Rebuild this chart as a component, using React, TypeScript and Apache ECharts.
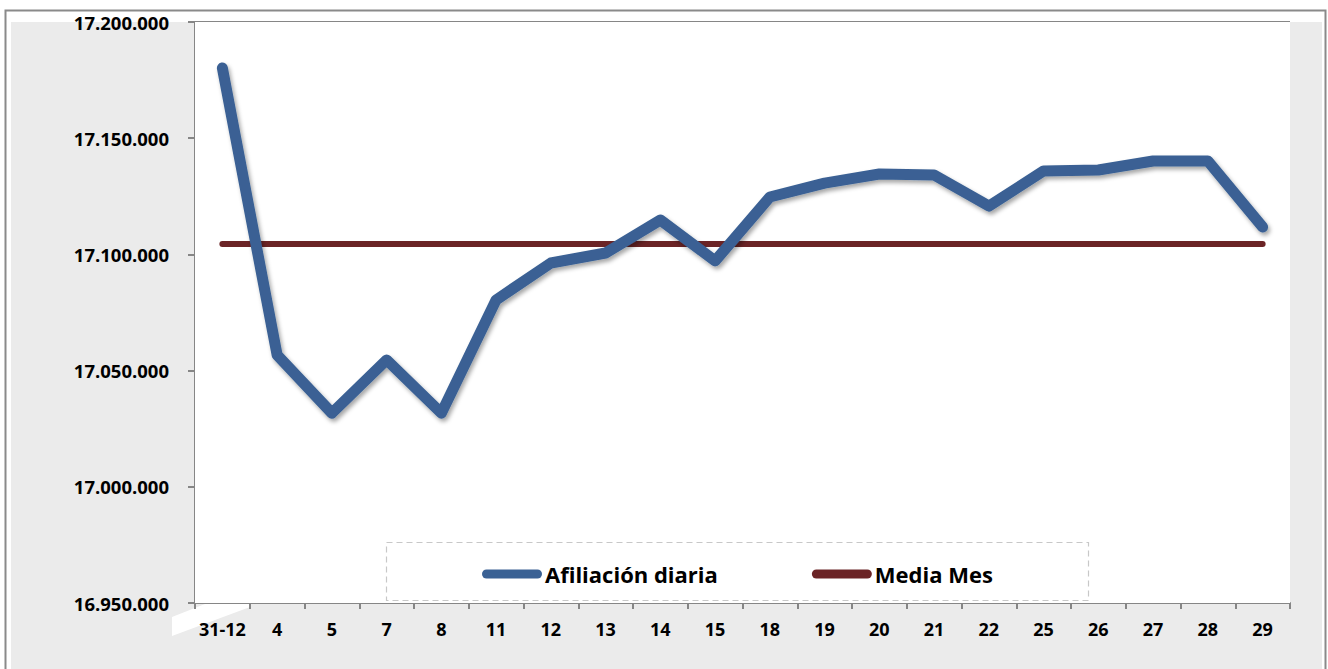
import React, { useEffect, useRef } from "react";
import * as echarts from "echarts";

const categories = ["31-12", "4", "5", "7", "8", "11", "12", "13", "14", "15", "18", "19", "20", "21", "22", "25", "26", "27", "28", "29"];
const afiliacionDiaria = [17180200, 17056700, 17031700, 17054600, 17031700, 17080400, 17096300, 17100600, 17114800, 17097200, 17124700, 17130700, 17134600, 17134200, 17120800, 17135900, 17136300, 17140200, 17140200, 17111800];
const mediaMes = [17104500, 17104500, 17104500, 17104500, 17104500, 17104500, 17104500, 17104500, 17104500, 17104500, 17104500, 17104500, 17104500, 17104500, 17104500, 17104500, 17104500, 17104500, 17104500, 17104500];
const yMin = 16950000;
const yMax = 17200000;
const yStep = 50000;

const FONT = "'Open Sans', Lato, sans-serif";

function fmt(v: number): string {
  return String(Math.round(v)).replace(/\B(?=(\d{3})+(?!\d))/g, ".");
}

export default function App() {
  const ref = useRef<HTMLDivElement>(null);
  useEffect(() => {
    if (!ref.current) return;
    const chart = echarts.init(ref.current, null, { renderer: "svg" });
    const pill = "path://M4.5,0 H55.5 A4.5,4.5 0 0 1 55.5,9 H4.5 A4.5,4.5 0 0 1 4.5,0 Z";
    chart.setOption({
      animation: false,
      backgroundColor: "#ffffff",
      grid: {
        left: 195,
        right: 38,
        top: 22,
        bottom: 66,
        show: true,
        backgroundColor: "#ffffff",
        borderWidth: 0,
        z: 1,
      },
      graphic: [
        {
          type: "rect",
          z: -10,
          silent: true,
          shape: { x: 11, y: 22, width: 1311, height: 660 },
          style: { fill: "#ebebeb" },
        },
        {
          type: "rect",
          z: -9,
          silent: true,
          shape: { x: 5.5, y: 10.5, width: 1320, height: 680 },
          style: { fill: "none", stroke: "#8a8a8a", lineWidth: 2 },
        },
        {
          type: "polygon",
          z: -8,
          silent: true,
          shape: { points: [[172, 617], [205, 604], [250, 604], [250, 607], [172, 636]] },
          style: { fill: "#ffffff" },
        },
        {
          type: "rect",
          z: 5,
          silent: true,
          shape: { x: 386.5, y: 542.5, width: 702, height: 58 },
          style: { fill: "#ffffff", stroke: "#c8c8c8", lineWidth: 1.2, lineDash: [6, 4] },
        },
      ],
      legend: {
        z: 10,
        left: 477,
        top: 558,
        itemWidth: 60,
        itemHeight: 9,
        itemGap: 94,
        textStyle: { fontFamily: FONT, fontSize: 22, fontWeight: "bold", color: "#000", padding: [0, 0, 0, -2] },
        data: [
          { name: "Afiliación diaria", icon: pill, itemStyle: { color: "#3a6194" } },
          { name: "Media Mes", icon: pill, itemStyle: { color: "#6b2426" } },
        ],
      },
      xAxis: {
        type: "category",
        data: categories,
        boundaryGap: true,
        axisLine: { lineStyle: { color: "#868686", width: 2 } },
        axisTick: { show: true, length: 6, lineStyle: { color: "#868686", width: 2 } },
        axisLabel: { interval: 0, margin: 17, fontFamily: FONT, fontSize: 18, fontWeight: "bold", color: "#000" },
        splitLine: { show: false },
      },
      yAxis: {
        type: "value",
        min: yMin,
        max: yMax,
        interval: yStep,
        axisLine: { show: true, lineStyle: { color: "#868686", width: 2 } },
        axisTick: { show: true, length: 7, lineStyle: { color: "#868686", width: 2 } },
        axisLabel: { margin: 26, fontFamily: FONT, fontSize: 18.5, fontWeight: "bold", color: "#000", formatter: (v: number) => fmt(v) },
        splitLine: { show: true, lineStyle: { color: "#868686", width: 2 } },
      },
      series: [
        {
          name: "Afiliación diaria",
          type: "line",
          data: afiliacionDiaria,
          showSymbol: false,
          symbol: "none",
          z: 4,
          lineStyle: {
            color: "#3a6194",
            width: 11,
            cap: "round",
            join: "round",
            shadowColor: "rgba(0,0,0,0.35)",
            shadowBlur: 4,
            shadowOffsetX: 2,
            shadowOffsetY: 3,
          },
          itemStyle: { color: "#3a6194" },
        },
        {
          name: "Media Mes",
          type: "line",
          data: mediaMes,
          showSymbol: false,
          symbol: "none",
          z: 3,
          lineStyle: { color: "#6b2426", width: 6, cap: "round" },
          itemStyle: { color: "#6b2426" },
        },
      ],
    });
    return () => chart.dispose();
  }, []);
  return <div ref={ref} style={{ position: "fixed", left: 0, top: 0, width: 1328, height: 669 }} />;
}
